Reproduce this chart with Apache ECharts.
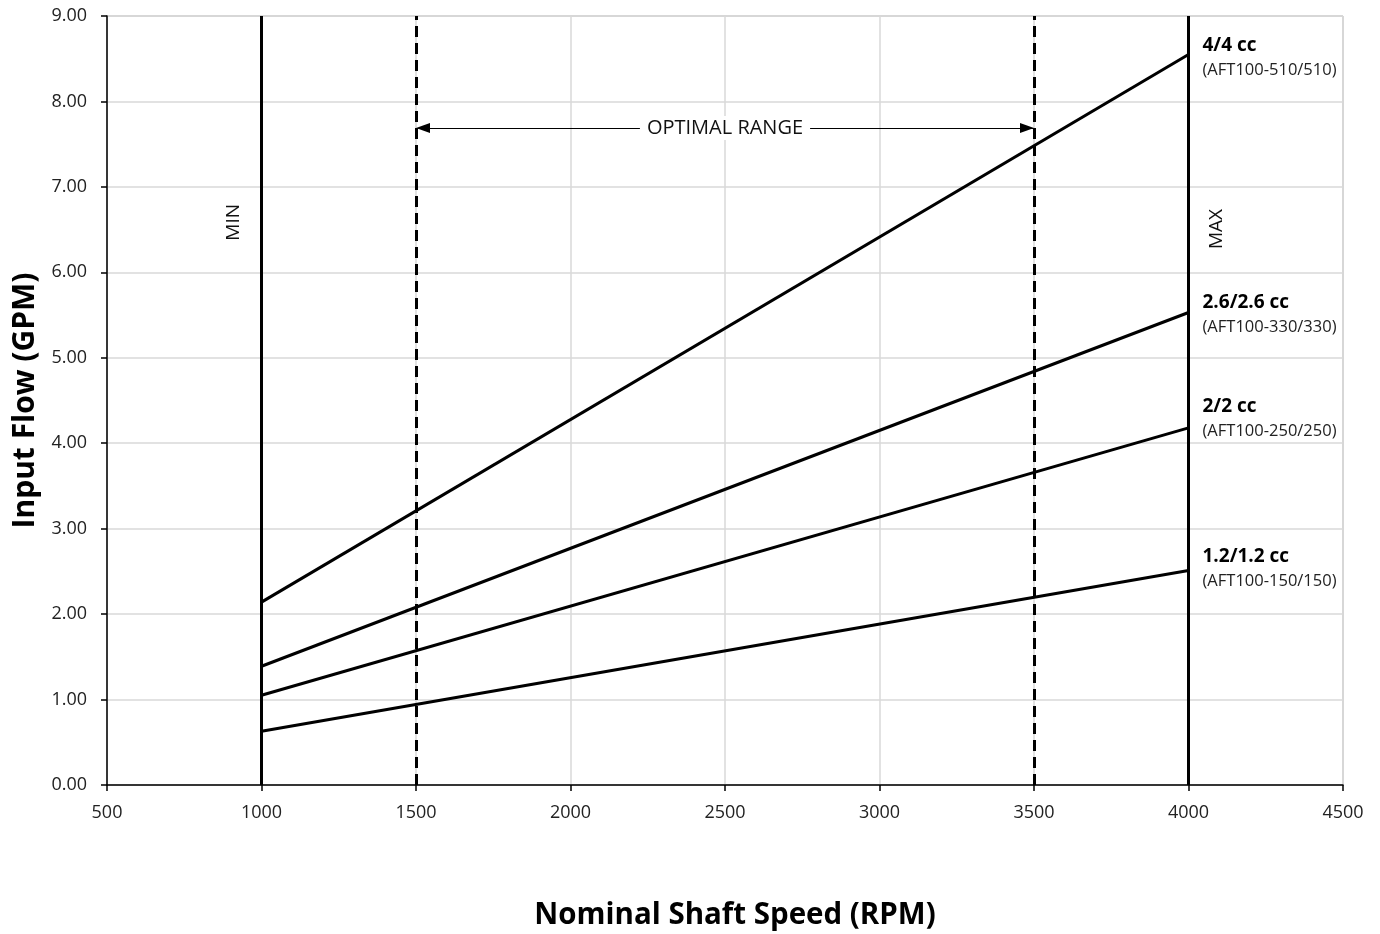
<!DOCTYPE html>
<html>
<head>
<meta charset="utf-8">
<script src="https://cdn.jsdelivr.net/npm/echarts@6/dist/echarts.min.js"></script>
<style>
html,body{margin:0;padding:0;background:#fff;}
#chart{width:1380px;height:934px;}
</style>
</head>
<body>
<div id="chart"></div>
<script>
// ---- data ----
const speeds = [1000, 4000];
const seriesNames = ['4/4 cc', '2.6/2.6 cc', '2/2 cc', '1.2/1.2 cc'];
const seriesModels = ['(AFT100-510/510)', '(AFT100-330/330)', '(AFT100-250/250)', '(AFT100-150/150)'];
const flow44 = [2.14, 8.55];
const flow2626 = [1.39, 5.53];
const flow22 = [1.05, 4.18];
const flow1212 = [0.63, 2.51];
const minSpeed = 1000;
const maxSpeed = 4000;
const optimalRange = [1500, 3500];
const optimalLabelY = 7.69;
const xTicks = [500, 1000, 1500, 2000, 2500, 3000, 3500, 4000, 4500];
const yTicks = [0, 1, 2, 3, 4, 5, 6, 7, 8, 9];

const FONT = '"Open Sans", "Noto Sans", sans-serif';
const allFlows = [flow44, flow2626, flow22, flow1212];
const labelOffsets = [[0, 3], [0, 2], [0, -9], [0, -2]];

const lineSeries = allFlows.map((vals, i) => ({
  name: seriesNames[i],
  type: 'line',
  symbol: 'none',
  silent: true,
  lineStyle: { color: '#000', width: 3 },
  data: speeds.map((s, j) => [s, vals[j]]),
  endLabel: {
    show: true,
    distance: 14,
    offset: labelOffsets[i],
    formatter: () => '{a|' + seriesNames[i] + '}\n{b|' + seriesModels[i] + '}',
    rich: {
      a: { fontFamily: FONT, fontWeight: 'bold', fontSize: 19, color: '#000', lineHeight: 25 },
      b: { fontFamily: FONT, fontSize: 16.5, color: '#222', lineHeight: 24 }
    }
  },
  z: 5
}));

const refSeries = {
  type: 'line',
  data: [],
  silent: true,
  markLine: {
    silent: true,
    symbol: ['none', 'none'],
    animation: false,
    data: [
      {
        xAxis: minSpeed,
        lineStyle: { color: '#000', width: 3, type: 'solid' },
        label: {
          show: true, formatter: 'MIN', position: 'insideEndTop',
          fontFamily: FONT, fontSize: 19, color: '#111', offset: [-193, -13]
        }
      },
      {
        xAxis: maxSpeed,
        lineStyle: { color: '#000', width: 3, type: 'solid' },
        label: {
          show: true, formatter: 'MAX', position: 'insideEndBottom',
          fontFamily: FONT, fontSize: 19, color: '#111', offset: [-188, 24]
        }
      },
      {
        xAxis: optimalRange[0],
        lineStyle: { color: '#000', width: 3, type: [11, 6] },
        label: { show: false }
      },
      {
        xAxis: optimalRange[1],
        lineStyle: { color: '#000', width: 3, type: [11, 6] },
        label: { show: false }
      },
      [
        {
          coord: [optimalRange[0], optimalLabelY],
          symbol: 'triangle', symbolSize: [10, 14], symbolOffset: [0, 7],
          lineStyle: { color: '#000', width: 1, type: 'solid' },
          label: {
            show: true, formatter: 'OPTIMAL RANGE', position: 'middle',
            fontFamily: FONT, fontSize: 20, color: '#111',
            backgroundColor: '#fff', padding: [2, 7], distance: 0, offset: [0, 12]
          }
        },
        {
          coord: [optimalRange[1], optimalLabelY],
          symbol: 'triangle', symbolSize: [10, 14], symbolOffset: [0, 7]
        }
      ]
    ]
  },
  z: 4
};

const chart = echarts.init(document.getElementById('chart'));
chart.setOption({
  animation: false,
  backgroundColor: '#fff',
  grid: { left: 107, right: 37, top: 16, bottom: 149, show: true, borderColor: '#a6a6a6', borderWidth: 1, outerBoundsMode: 'none', containLabel: false },
  xAxis: {
    type: 'value',
    min: xTicks[0], max: xTicks[xTicks.length - 1], interval: 500,
    name: 'Nominal Shaft Speed (RPM)',
    nameLocation: 'middle', nameGap: 116,
    nameTextStyle: { fontFamily: FONT, fontWeight: 'bold', fontSize: 29.5, color: '#000', padding: [0, 0, 0, 20] },
    axisLine: { show: true, lineStyle: { color: '#000', width: 1.5 } },
    axisTick: { show: true, length: 6, lineStyle: { color: '#000', width: 1.5 } },
    axisLabel: { fontFamily: FONT, fontSize: 18, color: '#222', margin: 19, formatter: v => String(v) },
    splitLine: { show: true, lineStyle: { color: '#d9d9d9', width: 1.5 } }
  },
  yAxis: {
    type: 'value',
    min: yTicks[0], max: yTicks[yTicks.length - 1], interval: 1,
    name: 'Input Flow (GPM)',
    nameLocation: 'middle', nameGap: 67,
    nameTextStyle: { fontFamily: FONT, fontWeight: 'bold', fontSize: 30, color: '#000' },
    axisLine: { show: true, lineStyle: { color: '#000', width: 1.5 } },
    axisTick: { show: true, length: 6, lineStyle: { color: '#000', width: 1.5 } },
    axisLabel: { fontFamily: FONT, fontSize: 18, color: '#222', margin: 20, formatter: v => v.toFixed(2) },
    splitLine: { show: true, lineStyle: { color: '#d9d9d9', width: 1.5 } }
  },
  series: [refSeries].concat(lineSeries)
});
</script>
</body>
</html>
